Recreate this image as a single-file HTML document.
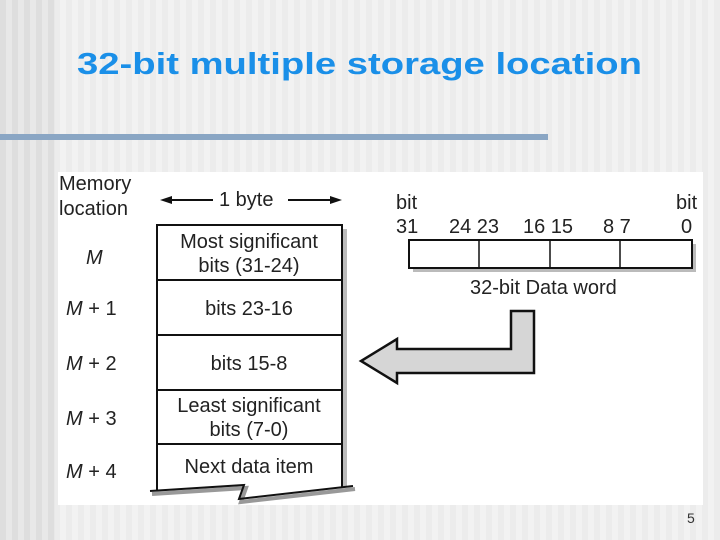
<!DOCTYPE html>
<html><head><meta charset="utf-8"><style>
html,body{margin:0;padding:0;width:720px;height:540px;overflow:hidden}
body{background:repeating-linear-gradient(90deg,#f2f2f2 0,#f2f2f2 6px,#ececec 6px,#ececec 12px)}
.left{position:absolute;left:0;top:0;width:55px;height:540px;background:repeating-linear-gradient(90deg,#dedede 0,#dedede 6px,#e8e8e8 6px,#e8e8e8 12px)}
svg{position:absolute;left:0;top:0}
</style></head><body><div class="left"></div>
<svg width="720" height="540" xmlns="http://www.w3.org/2000/svg" font-family="Liberation Sans, sans-serif">
<text x="77" y="74" font-size="31" font-weight="bold" fill="#1a8fe8" textLength="565" lengthAdjust="spacingAndGlyphs">32-bit multiple storage location</text>
<rect x="0" y="134" width="548" height="6" fill="#8aa6c4"/>
<rect x="58" y="172" width="645" height="333" fill="#fff"/>
<g fill="#222" font-size="20">
<text x="59" y="190">Memory</text>
<text x="59" y="215">location</text>
<text x="219" y="206">1 byte</text>
<text x="86" y="264" font-style="italic">M</text>
<text x="66" y="315"><tspan font-style="italic">M</tspan> + 1</text>
<text x="66" y="370"><tspan font-style="italic">M</tspan> + 2</text>
<text x="66" y="425"><tspan font-style="italic">M</tspan> + 3</text>
<text x="66" y="478"><tspan font-style="italic">M</tspan> + 4</text>
</g>
<g stroke="#111" stroke-width="2" fill="#111">
<line x1="170" y1="200" x2="213" y2="200"/><polygon points="160,200 172,196 172,204" stroke="none"/>
<line x1="288" y1="200" x2="332" y2="200"/><polygon points="342,200 330,196 330,204" stroke="none"/>
</g>
<rect x="342" y="229" width="5" height="258" fill="#bbb"/>
<g stroke="#111" stroke-width="2" fill="none">
<path d="M157,490 L157,225 L342,225 L342,487"/>
<line x1="157" y1="280" x2="342" y2="280"/>
<line x1="157" y1="335" x2="342" y2="335"/>
<line x1="157" y1="390" x2="342" y2="390"/>
<line x1="157" y1="444" x2="342" y2="444"/>
</g>
<polyline points="152,494 246,488 241,502 355,489" fill="none" stroke="#999" stroke-width="4"/>
<polyline points="150,491 244,485 239,499 353,486" fill="none" stroke="#111" stroke-width="2"/>
<g fill="#222" font-size="20" text-anchor="middle">
<text x="249" y="248">Most significant</text>
<text x="249" y="272">bits (31-24)</text>
<text x="249" y="315">bits 23-16</text>
<text x="249" y="370">bits 15-8</text>
<text x="249" y="412">Least significant</text>
<text x="249" y="436">bits (7-0)</text>
<text x="249" y="473">Next data item</text>
</g>
<g fill="#222" font-size="20">
<text x="396" y="209">bit</text>
<text x="676" y="209">bit</text>
<text x="396" y="233">31</text>
<text x="449" y="233">24 23</text>
<text x="523" y="233">16 15</text>
<text x="603" y="233">8 7</text>
<text x="681" y="233">0</text>
<text x="470" y="294">32-bit Data word</text>
</g>
<rect x="413" y="244" width="283" height="28" fill="#bbb"/>
<rect x="409" y="240" width="283" height="28" fill="#fff" stroke="#111" stroke-width="2"/>
<g stroke="#111" stroke-width="1.5"><line x1="479" y1="240" x2="479" y2="268"/><line x1="550" y1="240" x2="550" y2="268"/><line x1="620" y1="240" x2="620" y2="268"/></g>
<polygon points="511,311 534,311 534,373 397,373 397,383 361,361 397,339 397,349 511,349" fill="#d6d6d6" stroke="#111" stroke-width="2.5" stroke-linejoin="miter"/>
<text x="687" y="523" font-size="14" fill="#333">5</text>
</svg></body></html>
